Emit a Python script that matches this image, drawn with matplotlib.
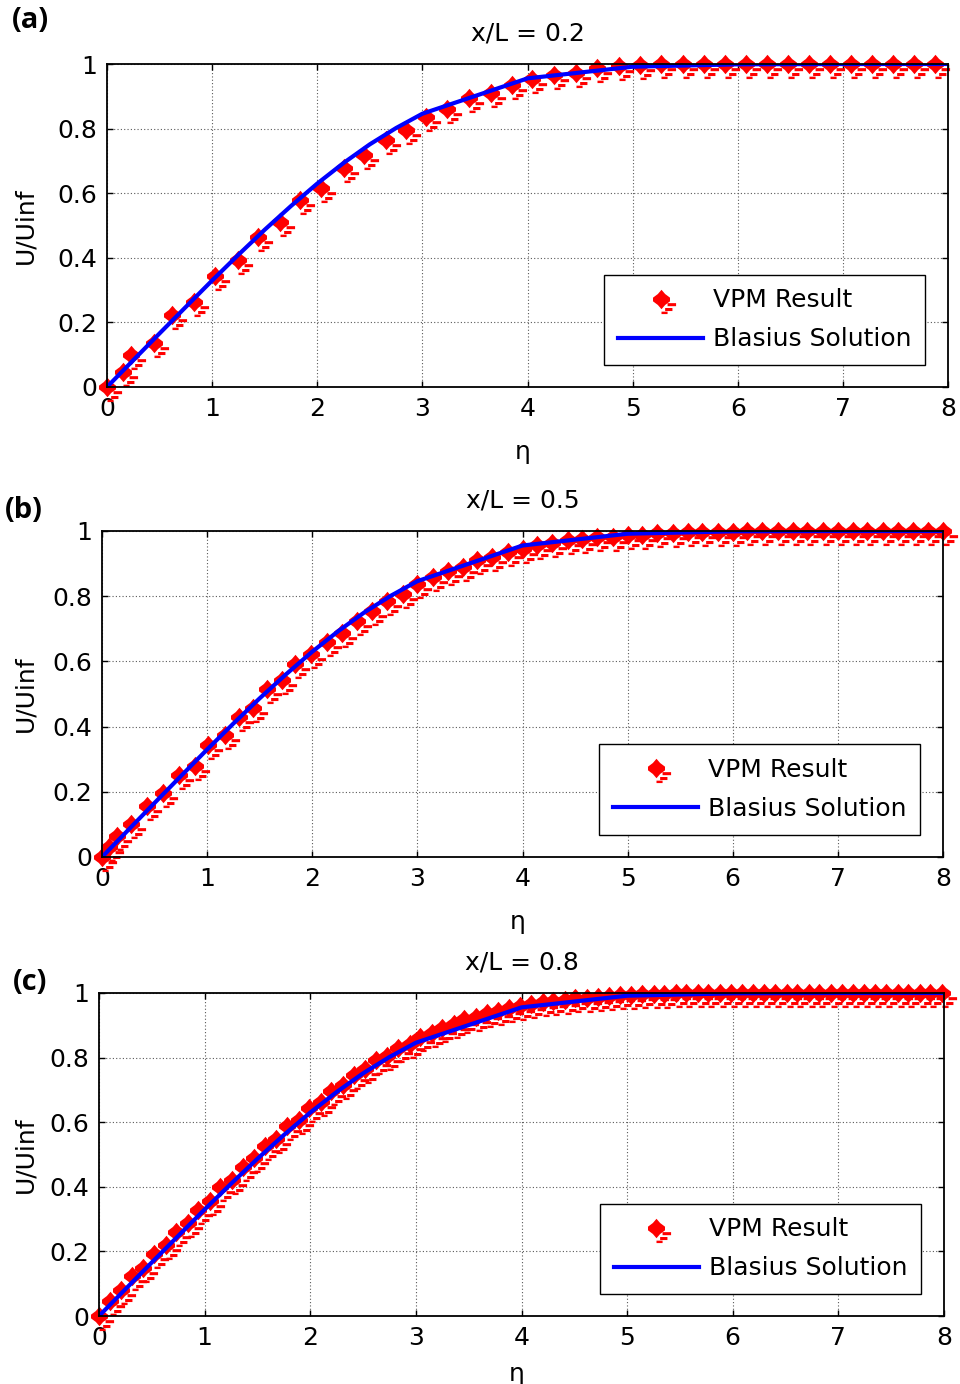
import matplotlib
matplotlib.use("Agg")
import matplotlib.pyplot as plt
from matplotlib.path import Path

plt.rcParams["font.family"] = ["DejaVu Sans"]

# Blasius solution (solver output, steps grow with eta)
eta_blasius = [0.0, 0.25, 0.5, 0.75, 1.0, 1.25, 1.5, 1.75, 2.0, 2.25, 2.5,
               2.75, 3.0, 4.0, 5.0, 6.0, 7.0, 8.0]
u_blasius = [0.0, 0.0830, 0.1659, 0.2480, 0.3298, 0.4094, 0.4868, 0.5603,
             0.6298, 0.6935, 0.7513, 0.8018, 0.8461, 0.9555, 0.9916, 0.9990,
             0.9999, 1.0]

# VPM results, x/L = 0.2
eta_a = [0.0, 0.15, 0.23, 0.45, 0.62, 0.83, 1.03, 1.25, 1.44, 1.65, 1.84,
         2.04, 2.25, 2.44, 2.65, 2.84, 3.03, 3.23, 3.44, 3.65, 3.85, 4.04,
         4.25, 4.46, 4.66, 4.87, 5.07, 5.27, 5.48, 5.68, 5.88, 6.08, 6.28,
         6.48, 6.68, 6.88, 7.08, 7.28, 7.48, 7.68, 7.88]
u_a = [0.0, 0.045, 0.100, 0.137, 0.222, 0.264, 0.345, 0.393, 0.465, 0.512,
       0.578, 0.615, 0.677, 0.718, 0.765, 0.796, 0.835, 0.862, 0.895, 0.910,
       0.935, 0.955, 0.966, 0.972, 0.988, 0.993, 0.997, 0.999, 1.0, 1.0,
       1.0, 1.0, 1.0, 1.0, 1.0, 1.0, 1.0, 1.0, 1.0, 1.0, 1.0]

# VPM results, x/L = 0.5
eta_b = [0.0, 0.07, 0.14, 0.28, 0.43, 0.58, 0.73, 0.88, 1.01, 1.17,
         1.30, 1.44, 1.57, 1.71, 1.84, 1.99, 2.14, 2.28, 2.43, 2.57,
         2.71, 2.86, 3.00, 3.15, 3.29, 3.43, 3.57, 3.71, 3.86, 4.00,
         4.14, 4.28, 4.43, 4.57, 4.71, 4.86, 5.00, 5.14, 5.28, 5.43,
         5.57, 5.71, 5.86, 6.00, 6.14, 6.28, 6.43, 6.57, 6.71, 6.86,
         7.00, 7.14, 7.28, 7.43, 7.57, 7.71, 7.86, 8.00]
u_b = [0.0, 0.03, 0.065, 0.10, 0.155, 0.195, 0.25, 0.28, 0.343, 0.375,
       0.43, 0.457, 0.515, 0.543, 0.593, 0.622, 0.658, 0.686, 0.724, 0.755,
       0.785, 0.806, 0.837, 0.858, 0.877, 0.889, 0.910, 0.921, 0.937, 0.945,
       0.957, 0.962, 0.971, 0.974, 0.981, 0.983, 0.988, 0.989, 0.993, 0.993,
       0.996, 0.996, 0.998, 0.998, 0.999, 0.999, 1.0, 1.0, 1.0, 1.0,
       1.0, 1.0, 1.0, 1.0, 1.0, 1.0, 1.0, 1.0]

# VPM results, x/L = 0.8
eta_c = [0.0, 0.10, 0.21, 0.31, 0.42, 0.52, 0.63, 0.73, 0.84, 0.94,
         1.05, 1.15, 1.26, 1.36, 1.47, 1.57, 1.68, 1.78, 1.89, 1.99,
         2.10, 2.20, 2.31, 2.41, 2.52, 2.62, 2.73, 2.83, 2.94, 3.04,
         3.15, 3.25, 3.36, 3.46, 3.57, 3.67, 3.78, 3.88, 3.99, 4.09,
         4.20, 4.30, 4.41, 4.51, 4.62, 4.72, 4.83, 4.93, 5.04, 5.14,
         5.25, 5.35, 5.46, 5.56, 5.67, 5.77, 5.88, 5.98, 6.09, 6.19,
         6.30, 6.40, 6.51, 6.61, 6.72, 6.82, 6.93, 7.03, 7.14, 7.24,
         7.35, 7.45, 7.56, 7.66, 7.77, 7.87, 7.98]
u_c = [0.0, 0.045, 0.080, 0.123, 0.149, 0.192, 0.219, 0.260, 0.287, 0.328,
       0.356, 0.398, 0.422, 0.462, 0.488, 0.527, 0.549, 0.587, 0.608, 0.645,
       0.664, 0.698, 0.716, 0.747, 0.765, 0.792, 0.806, 0.830, 0.843, 0.864,
       0.876, 0.893, 0.903, 0.918, 0.926, 0.938, 0.945, 0.954, 0.960, 0.966,
       0.971, 0.976, 0.979, 0.983, 0.986, 0.989, 0.991, 0.993, 0.995, 0.996,
       0.997, 0.998, 0.999, 0.999, 1.0, 1.0, 1.0, 1.0, 1.0, 1.0,
       1.0, 1.0, 1.0, 1.0, 1.0, 1.0, 1.0, 1.0, 1.0, 1.0,
       1.0, 1.0, 1.0, 1.0, 1.0, 1.0, 1.0]

panels = [("(a)", "x/L = 0.2", eta_a, u_a),
          ("(b)", "x/L = 0.5", eta_b, u_b),
          ("(c)", "x/L = 0.8", eta_c, u_c)]

xticks = [0, 1, 2, 3, 4, 5, 6, 7, 8]
yticks = [0, 0.2, 0.4, 0.6, 0.8, 1]
yticklabels = ["0", "0.2", "0.4", "0.6", "0.8", "1"]

# axes boxes in pixels: left, right, top, bottom
boxes = [(107, 948, 64, 387), (102, 943, 531, 857), (99, 944, 993, 1316)]
tags_xy = [(30, 20), (24, 510), (30, 983)]
eta_label_dy = [65, 65, 58]

# red marker: fat blob with a few smeared dashes to the lower right
def rect(x0, y0, x1, y1):
    return [(x0, y0), (x1, y0), (x1, y1), (x0, y1), (x0, y0)]

blob = [(0, 8), (3, 4.5), (7, 1.5), (7, -1.5), (3, -4.5), (0, -8),
        (-3, -4.5), (-7, -1.5), (-7, 1.5), (-3, 4.5), (0, 8)]
verts = list(blob)
codes = [Path.MOVETO] + [Path.LINETO] * (len(blob) - 2) + [Path.CLOSEPOLY]
for r in (rect(5, -3, 12, -5.5), rect(3, -7, 9, -9.5), rect(0, -10, 5, -12)):
    verts += r
    codes += [Path.MOVETO] + [Path.LINETO] * 3 + [Path.CLOSEPOLY]
vpm_marker = Path(verts, codes)

W, H = 960, 1384
fig = plt.figure(figsize=(W / 100, H / 100), dpi=100)

for (tag, title, eta, u), (l, r, t, b), (tx, ty), dy in zip(panels, boxes, tags_xy, eta_label_dy):
    ax = fig.add_axes([l / W, 1 - b / H, (r - l) / W, (b - t) / H])
    ax.plot(eta, u, linestyle="none", marker=vpm_marker, markersize=21,
            color="red", markeredgewidth=0, clip_on=False, label="VPM Result")
    ax.plot(eta_blasius, u_blasius, color="blue", linewidth=3,
            label="Blasius Solution")
    ax.set_xlim(0, 8)
    ax.set_ylim(0, 1)
    ax.set_xticks(xticks)
    ax.set_yticks(yticks)
    ax.set_yticklabels(yticklabels)
    ax.tick_params(direction="in", length=4, width=1, top=True, right=True,
                   labelsize=18, pad=7)
    ax.grid(True, linestyle=(0, (1, 2)), color="0.35", linewidth=0.8)
    for s in ax.spines.values():
        s.set_linewidth(1.3)
    ax.set_title(title, fontsize=18, pad=17)
    leg = ax.legend(loc="lower right", bbox_to_anchor=(0.973, 0.068),
                    fontsize=18, fancybox=False, framealpha=1,
                    edgecolor="black", handlelength=3.4, handletextpad=0.4,
                    labelspacing=0.6, borderpad=0.55, borderaxespad=0)
    leg.get_frame().set_linewidth(1.0)
    fig.text(25 / W, 1 - ((t + b) / 2) / H, "U/Uinf", rotation=90,
             ha="center", va="center", fontsize=18)
    fig.text(((l + r) / 2 - 5) / W, 1 - (b + dy) / H, "η",
             ha="center", va="center", fontsize=18)
    fig.text(tx / W, 1 - ty / H, tag, ha="center", va="center",
             fontsize=21, fontweight="bold", family="Open Sans")

fig.savefig("out.png", dpi=100)
